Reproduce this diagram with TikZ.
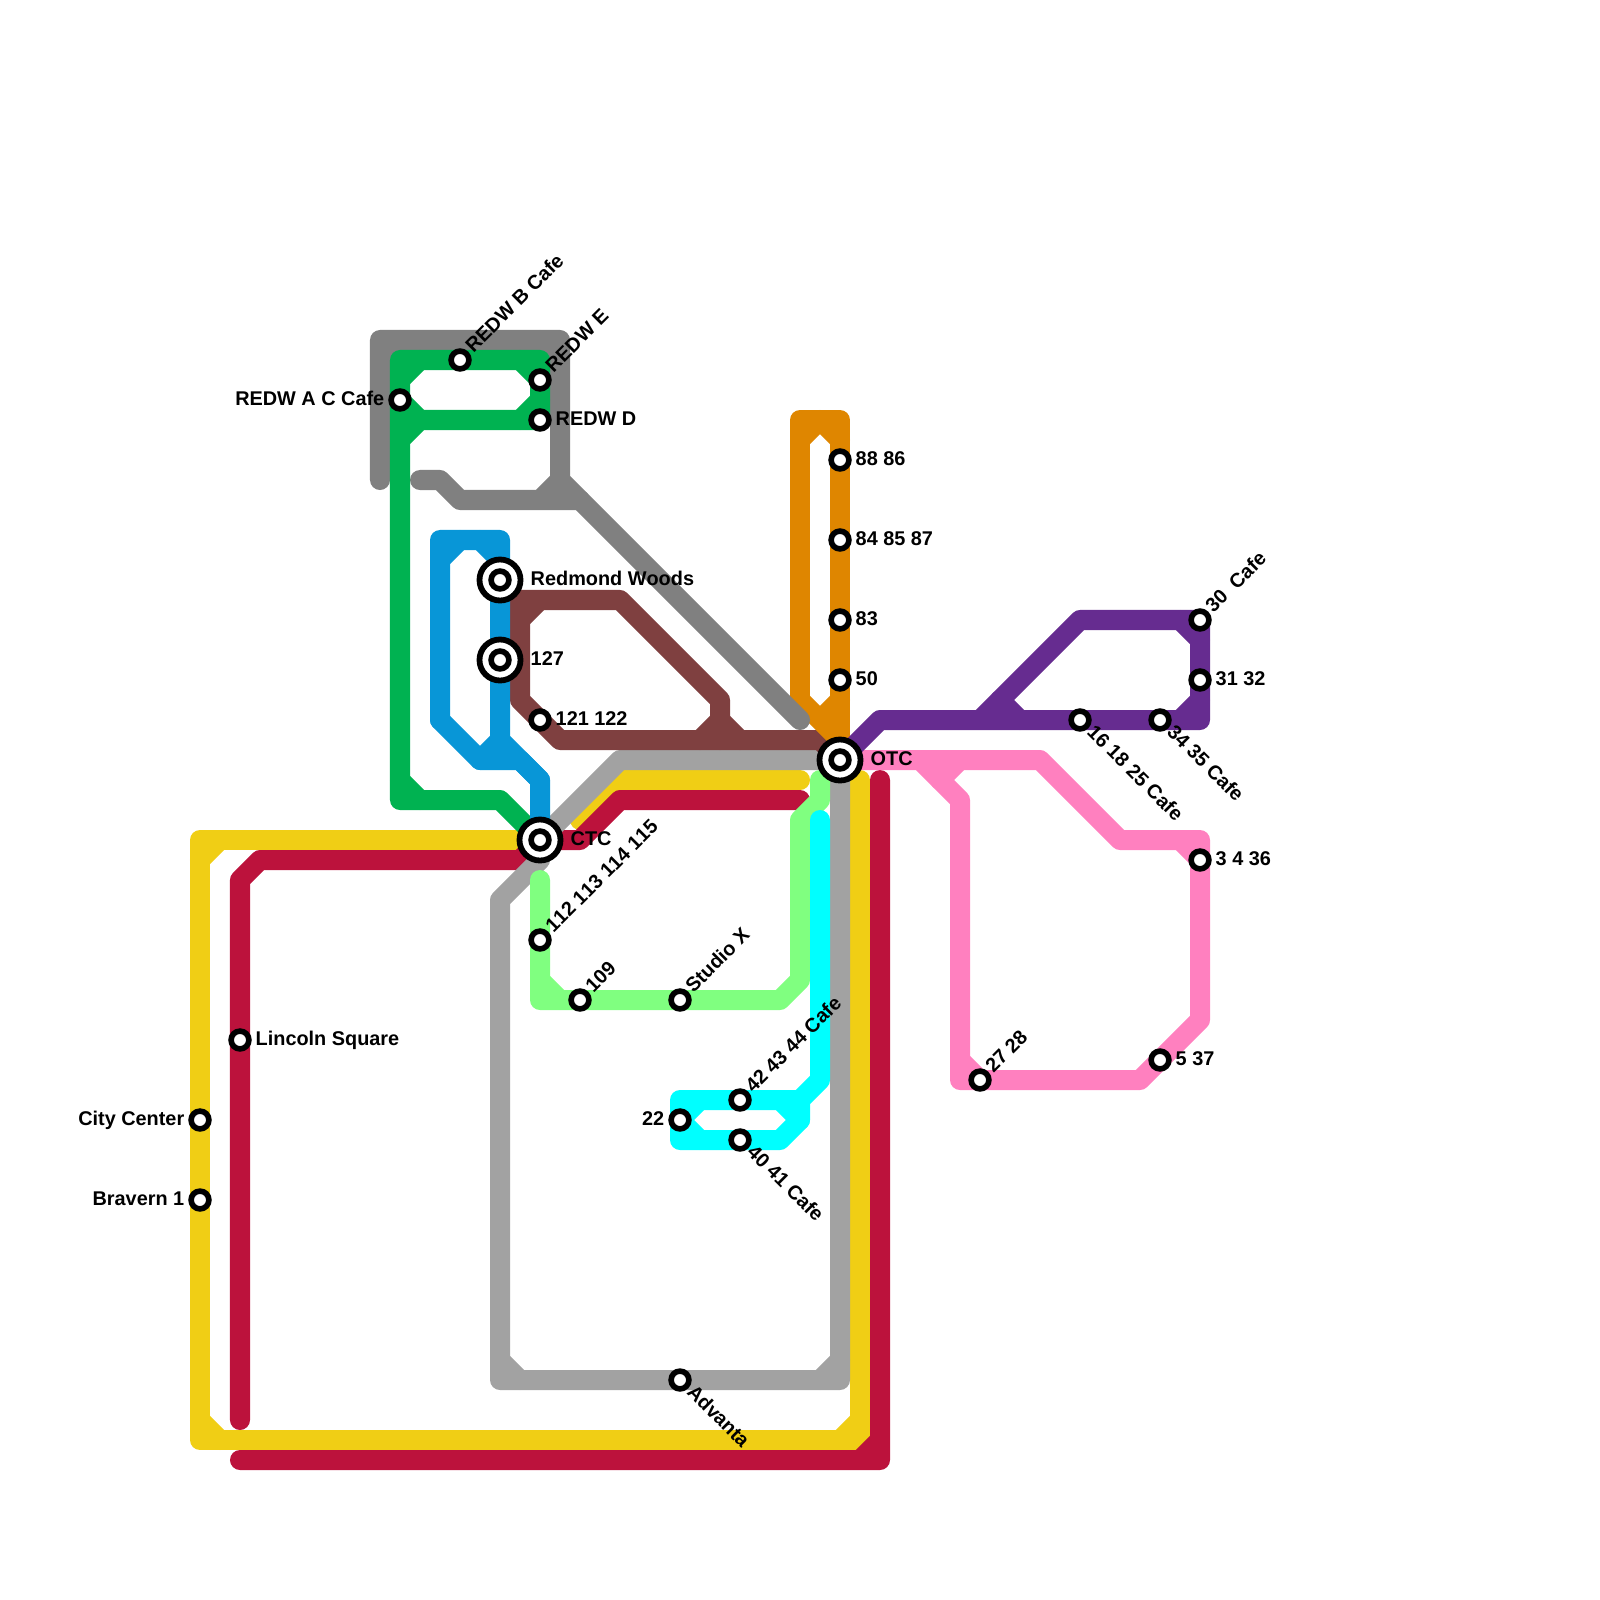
\documentclass[tikz,border=0pt]{standalone}
\usepackage{fontspec}
\setmainfont[Kerning=Off]{Liberation Sans}
\definecolor{redwgray}{HTML}{808080}
\definecolor{loopgray}{HTML}{A2A2A2}
\definecolor{sunyellow}{HTML}{F0CE15}
\definecolor{crimson}{HTML}{BC123C}
\definecolor{leaf}{HTML}{00B251}
\definecolor{mint}{HTML}{80FF80}
\definecolor{ocean}{HTML}{0896D7}
\definecolor{brick}{HTML}{7F4040}
\definecolor{amber}{HTML}{DF8600}
\definecolor{grape}{HTML}{662C90}
\definecolor{rose}{HTML}{FF80BF}
\definecolor{aqua}{HTML}{00FFFF}
\tikzset{
  route/.style={line width=2mm,line join=round,line cap=round},
  stop/.style={circle,draw=black,fill=white,line width=0.56mm,minimum size=1.78mm,inner sep=0pt},
  hub/.style={circle,draw=black,fill=white,line width=0.58mm,minimum size=4.1mm,inner sep=0pt},
  lbl/.style={font=\fontsize{5.65}{7}\selectfont\bfseries,inner sep=0pt,text=black,text height=1.42mm,text depth=0pt},
  east/.style={lbl,anchor=west,xshift=1.5mm,yshift=0.2mm},
  west/.style={lbl,anchor=east,xshift=-1.5mm,yshift=0.2mm},
  bigeast/.style={lbl,anchor=west,xshift=3mm,yshift=0.2mm},
  up/.style={lbl,anchor=west,rotate=45,xshift=1.35mm,yshift=0.2mm},
  down/.style={lbl,anchor=west,rotate=-45,xshift=1.3mm,yshift=0.2mm}
}
\begin{document}
\begin{tikzpicture}[x=0.01cm,y=-0.01cm]
  \useasboundingbox (0,0) rectangle (1600,1600);
  \foreach \n/\x/\y in {redwb/460/360,redwac/400/400,redwe/540/380,redwd/540/420,woods/500/580,
    oneseven/500/660,onetwo/540/720,ctc/540/840,otc/840/760,eightyeight/840/460,eightyfour/840/540,
    eightythree/840/620,fifty/840/680,thirty/1200/620,thirtyone/1200/680,sixteen/1080/720,
    thirtyfour/1160/720,three/1200/860,five/1160/1060,twentyseven/980/1080,fortytwo/740/1100,
    twentytwo/680/1120,forty/740/1140,advanta/680/1380,onetwelve/540/940,onenine/580/1000,
    studiox/680/1000,lincoln/240/1040,citycenter/200/1120,bravern/200/1200}
    {\coordinate (\n) at (\x,\y);}
  % yellow and crimson sit under the grey
  \draw[route,sunyellow] (ctc) -- (220,840) -- (200,840) -- (citycenter) -- (bravern) -- (200,1440) -- (860,1440) -- (860,780);
  \draw[route,sunyellow] (200,860) -- (220,840) (200,1420) -- (220,1440) (840,1440) -- (860,1420);
  \draw[route,sunyellow] (580,820) -- (620,780) -- (800,780);
  \draw[route,crimson] (240,1420) -- (lincoln) -- (240,880) -- (260,860) -- (520,860) -- (ctc);
  \draw[route,crimson] (240,1460) -- (880,1460) -- (880,780) (860,1460) -- (880,1440);
  \draw[route,crimson] (ctc) -- (580,840) -- (620,800) -- (800,800);
  % light grey
  \draw[route,loopgray] (otc) -- (620,760) -- (ctc) -- (540,860) -- (500,900) -- (500,1380) -- (advanta) -- (840,1380) -- (otc);
  \draw[route,loopgray] (500,1360) -- (520,1380) (820,1380) -- (840,1360);
  % brown
  \draw[route,brick] (520,600) -- (620,600) -- (720,700) -- (720,740);
  \draw[route,brick] (520,600) -- (520,700) -- (onetwo) -- (560,740) -- (820,740) -- (otc);
  \draw[route,brick] (520,620) -- (540,600) (700,740) -- (720,720) -- (740,740);
  % orange
  \draw[route,amber] (800,700) -- (800,420) -- (840,420) -- (eightyeight) -- (eightyfour) -- (eightythree) -- (fifty) -- (otc);
  \draw[route,amber] (800,440) -- (820,420) -- (840,440) (800,700) -- (840,740) (fifty) ++(0,20) -- (820,720);
  % dark grey
  \draw[route,redwgray] (380,480) -- (380,340) -- (560,340) -- (560,480) -- (800,720);
  \draw[route,redwgray] (420,480) -- (440,480) -- (460,500) -- (580,500) (540,500) -- (560,480);
  \draw[route,redwgray] (380,360) -- (400,340) (540,340) -- (560,360);
  % green
  \draw[route,leaf] (ctc) -- (500,800) -- (400,800) -- (redwac) -- (400,360) -- (redwb) -- (540,360) -- (redwe) -- (redwd) -- (420,420) -- (400,440);
  \draw[route,leaf] (400,780) -- (420,800) (400,380) -- (420,360) (520,360) -- (redwe) (400,400) -- (420,420) (520,420) -- (540,400);
  % blue
  \draw[route,ocean] (440,720) -- (440,540) -- (500,540) -- (woods) -- (oneseven) -- (500,740) -- (540,780) -- (ctc);
  \draw[route,ocean] (440,720) -- (480,760) -- (520,760) -- (540,780);
  \draw[route,ocean] (440,560) -- (460,540) (480,540) -- (500,560) (480,760) -- (500,740);
  % mint
  \draw[route,mint] (540,880) -- (onetwelve) -- (540,1000) -- (onenine) -- (studiox) -- (780,1000) -- (800,980) -- (800,820) -- (820,800) -- (820,780);
  \draw[route,mint] (540,980) -- (560,1000);
  % cyan
  \draw[route,aqua] (820,820) -- (820,1080) -- (800,1100) -- (fortytwo) -- (680,1100) -- (twentytwo) -- (680,1140) -- (forty) -- (780,1140) -- (800,1120) -- (800,1100);
  \draw[route,aqua] (twentytwo) -- (700,1100) (twentytwo) -- (700,1140) (780,1100) -- (800,1120);
  % pink
  \draw[route,rose] (otc) -- (1040,760) -- (1120,840) -- (1200,840) -- (three) -- (1200,1020) -- (five) -- (1140,1080) -- (960,1080) -- (960,800) -- (920,760);
  \draw[route,rose] (940,780) -- (960,760) (960,1060) -- (twentyseven) (1180,840) -- (three);
  % purple
  \draw[route,grape] (otc) -- (880,720) -- (sixteen) -- (thirtyfour) -- (1200,720) -- (thirtyone) -- (thirty) -- (1080,620) -- (980,720);
  \draw[route,grape] (1000,700) -- (1020,720) (1180,620) -- (1200,640) (thirtyone) ++(0,20) -- (1180,720);
  % stations
  \foreach \n in {woods,oneseven,ctc,otc} {\node[hub] (h\n) at (\n) {};}
  \foreach \n/\l/\s in {redwb/REDW B Cafe/up,redwac/REDW A C Cafe/west,redwe/REDW E/up,redwd/REDW D/east,
    woods/Redmond Woods/bigeast,oneseven/127/bigeast,onetwo/121 122/east,ctc/CTC/bigeast,otc/OTC/bigeast,
    eightyeight/88 86/east,eightyfour/84 85 87/east,eightythree/83/east,fifty/50/east,
    thirty/30\ \ Cafe/up,thirtyone/31 32/east,sixteen/16 18 25 Cafe/down,thirtyfour/34 35 Cafe/down,
    three/3 4 36/east,five/5 37/east,twentyseven/27 28/up,fortytwo/42 43 44 Cafe/up,twentytwo/22/west,
    forty/40 41 Cafe/down,advanta/Advanta/down,onetwelve/112 113 114 115/up,onenine/109/up,
    studiox/Studio X/up,lincoln/Lincoln Square/east,citycenter/City Center/west,bravern/Bravern 1/west}
    {\node[stop] (s\n) at (\n) {};
     \node[\s] (l\n) at (\n) {\l};}
\end{tikzpicture}
\end{document}
